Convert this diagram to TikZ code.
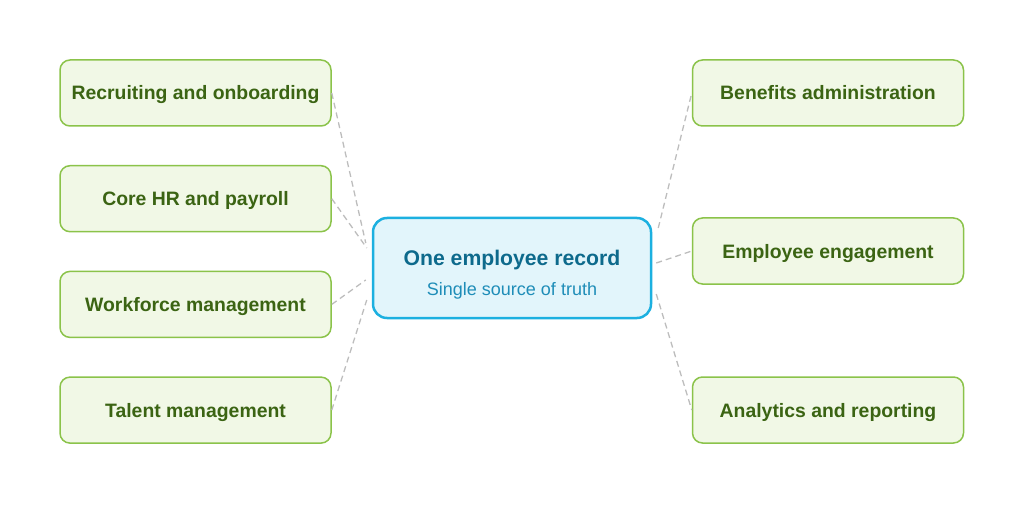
\documentclass[tikz,border=0pt]{standalone}
\usepackage{fontspec}
\setmainfont{Liberation Sans}
\usetikzlibrary{positioning,calc}
\definecolor{hrgreen}{HTML}{8BC34A}
\definecolor{hrgreenfill}{HTML}{F1F8E6}
\definecolor{hrgreentext}{HTML}{3B6413}
\definecolor{hubblue}{HTML}{1CB0E0}
\definecolor{hubfill}{HTML}{E2F5FB}
\definecolor{hubtitle}{HTML}{0D6A8C}
\definecolor{hubsub}{HTML}{1E8DB8}
\definecolor{linkgray}{HTML}{BDBDBD}
\tikzset{
  mod/.style  ={rectangle, rounded corners=10pt, draw=hrgreen, line width=1.5pt,
                fill=hrgreenfill, minimum width=271pt, minimum height=66pt,
                inner sep=0pt, align=center, text=hrgreentext,
                text height=14pt, text depth=0pt,
                font=\fontsize{19.4}{22}\selectfont\bfseries},
  hub/.style  ={rectangle, rounded corners=14pt, draw=hubblue, line width=2.5pt,
                fill=hubfill, minimum width=278pt, minimum height=100pt,
                inner sep=0pt, align=center},
  link/.style ={draw=linkgray, line width=1.3pt, dash pattern=on 6pt off 4pt}
}
\begin{document}
\begin{tikzpicture}[x=1pt, y=1pt, node distance=38.2pt]
\useasboundingbox (0,0) rectangle (1024,512);
\node[hub] (hub) at (512,244)
  {\rule{0pt}{29pt}{\fontsize{21.2}{25}\selectfont\bfseries\color{hubtitle}One employee record}\\[12pt]
   {\fontsize{18}{22}\selectfont\color{hubsub}Single source of truth}};
\node[mod] (recruit) at (195.5,419) {Recruiting and onboarding};
\node[mod, below=of recruit] (corehr) {Core HR and payroll};
\node[mod, below=of corehr] (workforce) {Workforce management};
\node[mod, below=of workforce] (talent) {Talent management};
\node[mod] (benefits) at (828,419) {Benefits administration};
\node[mod] (engage) at (828,261) {Employee engagement};
\node[mod] (analytics) at (828,102) {Analytics and reporting};
\coordinate (in1) at ($(hub.west)+(-6,25)$);
\coordinate (in2) at ($(hub.west)+(-5,20)$);
\coordinate (in3) at ($(hub.west)+(-6,-12)$);
\coordinate (in4) at ($(hub.west)+(-5,-32)$);
\coordinate (out1) at ($(hub.east)+(6,40)$);
\coordinate (out2) at ($(hub.east)+(4,5)$);
\coordinate (out3) at ($(hub.east)+(4,-26)$);
\draw[link] (recruit.east) -- (in1);
\draw[link] (corehr.east) -- (in2);
\draw[link] (workforce.east) -- (in3);
\draw[link] (talent.east) -- (in4);
\draw[link] (out1) -- (benefits.west);
\draw[link] (out2) -- (engage.west);
\draw[link] (out3) -- (analytics.west);
\end{tikzpicture}
\end{document}
